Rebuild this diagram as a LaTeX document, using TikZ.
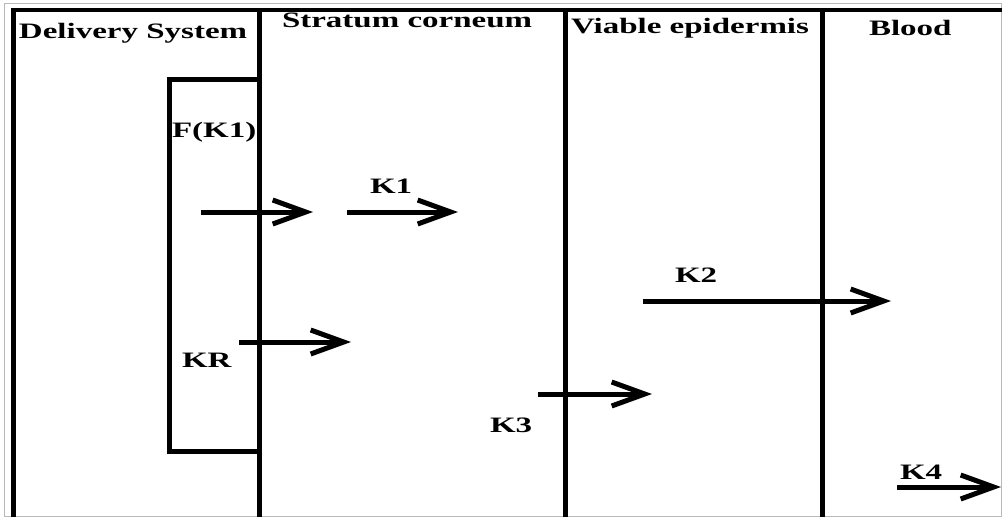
\documentclass[tikz,border=0pt]{standalone}
\usepackage{fontspec}
\setmainfont{Liberation Serif}
\usepackage{graphicx}
\usetikzlibrary{arrows.meta}
\newcommand\wlab[1]{\scalebox{1.5}[1]{\fontsize{22}{25}\selectfont\bfseries #1}}
\begin{document}
\begin{tikzpicture}[x=1pt,y=-1pt,line width=5pt,
  lbl/.style={anchor=base west,inner sep=0pt,outer sep=0pt},
  wall/.style={line width=5pt},
  flow/.style={line width=5pt,-{Straight Barb[length=33pt,width=24pt]}}]
\useasboundingbox (0,0) rectangle (1002,517);
% image border
\draw[gray!55,line width=0.8pt] (4,3) rectangle (1001,516);
% outer frame
\draw[line width=4pt] (11.5,10) -- (1002,10);
\draw[wall] (13.5,8) -- (13.5,517);
% dividers
\draw[wall] (259,10) -- (259,517);
\draw[wall] (565.5,10) -- (565.5,517);
\draw[wall] (822,10) -- (822,517);
% delivery patch
\draw[wall,line join=miter] (259,79) -- (169,79) -- (169,451) -- (259,451);
% headings
\node[lbl] (ds) at (19,38) {\wlab{Delivery System}};
\node[lbl] (sc) at (282,27) {\wlab{Stratum corneum}};
\node[lbl] (ve) at (571,33) {\wlab{Viable epidermis}};
\node[lbl] (bl) at (869,35) {\wlab{Blood}};
% rate labels
\node[lbl] (fk1) at (172,137) {\wlab{F(K1)}};
\node[lbl] (k1) at (370,193) {\wlab{K1}};
\node[lbl] (kr) at (182,367) {\wlab{KR}};
\node[lbl] (k2) at (675,282) {\wlab{K2}};
\node[lbl] (k3) at (490,432) {\wlab{K3}};
\node[lbl] (k4) at (900,479) {\wlab{K4}};
% arrow end points
\coordinate (a1s) at (201,212); \coordinate (a1e) at (313,212);
\coordinate (b1s) at (347,212); \coordinate (b1e) at (458,212);
\coordinate (krs) at (239,342); \coordinate (kre) at (351,342);
\coordinate (k2s) at (643,301); \coordinate (k2e) at (891,301);
\coordinate (k3s) at (538,394); \coordinate (k3e) at (652,394);
\coordinate (k4s) at (897,487); \coordinate (k4e) at (1001,487);
\draw[flow] (a1s) -- (a1e);
\draw[flow] (b1s) -- (b1e);
\draw[flow] (krs) -- (kre);
\draw[flow] (k2s) -- (k2e);
\draw[flow] (k3s) -- (k3e);
\draw[flow] (k4s) -- (k4e);
\end{tikzpicture}
\end{document}
